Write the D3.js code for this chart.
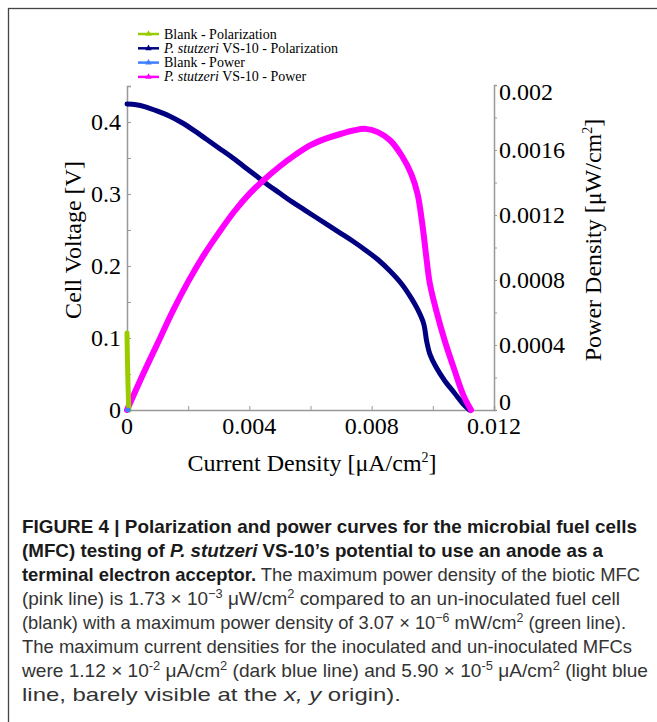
<!DOCTYPE html>
<html>
<head>
<meta charset="utf-8">
<script src="https://cdn.jsdelivr.net/npm/d3@7"></script>
<style>
  body { margin: 0; background: #fff; }
</style>
</head>
<body>
<div id="chart"></div>
<script>
// Polarization curve of P. stutzeri VS-10 (current density µA/cm², voltage V)
const polCurrent = [0, 0.0003, 0.0006, 0.001, 0.0014, 0.0018, 0.0022, 0.0026, 0.003, 0.0034, 0.0038, 0.0042,
  0.0046, 0.005, 0.0054, 0.0058, 0.0062, 0.0066, 0.007, 0.0074, 0.0078, 0.0082, 0.0086, 0.009, 0.0093,
  0.0095, 0.0097, 0.0098, 0.0099, 0.0101, 0.0104, 0.0107, 0.011, 0.0112];
const polVoltage = [0.425, 0.424, 0.421, 0.415, 0.408, 0.399, 0.388, 0.376, 0.364, 0.352, 0.339, 0.326,
  0.313, 0.301, 0.289, 0.278, 0.267, 0.256, 0.245, 0.234, 0.222, 0.209, 0.193, 0.174, 0.155,
  0.14, 0.12, 0.095, 0.078, 0.06, 0.04, 0.024, 0.008, 0];

// Power curve of P. stutzeri VS-10 (µW/cm²)
const powCurrent = [0, 0.0005, 0.001, 0.0015, 0.002, 0.0025, 0.003, 0.0035, 0.004, 0.0045, 0.005, 0.0055,
  0.006, 0.0065, 0.007, 0.0074, 0.0078, 0.0082, 0.0086, 0.009, 0.0093, 0.0095, 0.0096, 0.0097, 0.0098,
  0.0099, 0.0101, 0.0104, 0.0107, 0.011, 0.01125];
const powDensity = [0, 0.00021, 0.00041, 0.00061, 0.00079, 0.00095, 0.00109, 0.00122, 0.00133, 0.00142,
  0.0015, 0.00157, 0.00163, 0.00167, 0.0017, 0.00172, 0.00173, 0.00171, 0.00166, 0.00156, 0.00145,
  0.00133, 0.00122, 0.00108, 0.00092, 0.00078, 0.00062, 0.00042, 0.00025, 0.00009, 0];

// Blank (un-inoculated) cell
const blankPolCurrent = [0, 0.00001, 0.00003, 0.000059];
const blankPolVoltage = [0.107, 0.08, 0.04, 0];
const blankPowCurrent = [0, 0.00003, 0.000059];
const blankPowDensity = [0, 0.0000025, 0];

const xTicks = [0, 0.004, 0.008, 0.012];
const yLeftTicks = [0, 0.1, 0.2, 0.3, 0.4];
const yRightTicks = [0, 0.0004, 0.0008, 0.0012, 0.0016, 0.002];

const legendLabels = [
  { ital: "", post: "Blank - Polarization", color: "#99cc00" },
  { ital: "P. stutzeri", post: " VS-10 - Polarization", color: "#000080" },
  { ital: "", post: "Blank - Power", color: "#3f7fff" },
  { ital: "P. stutzeri", post: " VS-10 - Power", color: "#ff00ff" }
];

const width = 657, height = 722;
const serif = "'Liberation Serif', 'Times New Roman', serif";
const sans = "'Liberation Sans', Arial, sans-serif";

const svg = d3.select("#chart").append("svg")
  .attr("width", width)
  .attr("height", height);

// frame around the figure
svg.append("rect")
  .attr("x", 8.5).attr("y", 8.5)
  .attr("width", 700).attr("height", 760)
  .attr("fill", "none")
  .attr("stroke", "#444")
  .attr("stroke-width", 1.3);

const x = d3.scaleLinear().domain([0, 0.012]).range([127, 494]);
const yL = d3.scaleLinear().domain([0, 0.45]).range([410, 86]);
const yR = d3.scaleLinear().domain([0, 0.002]).range([410, 85]);

const axisColor = "#999";

// bottom axis
const xAxis = svg.append("g")
  .attr("transform", "translate(0,410)")
  .call(d3.axisBottom(x).tickValues(d3.range(0, 0.0121, 0.002)).tickSize(-4).tickFormat(""));
xAxis.select(".domain").attr("stroke", axisColor).attr("stroke-width", 1.5);
xAxis.selectAll(".tick line").attr("stroke", axisColor);

svg.append("g").selectAll("text")
  .data(xTicks)
  .join("text")
  .attr("x", d => x(d))
  .attr("y", 434)
  .attr("text-anchor", "middle")
  .style("font-family", serif)
  .style("font-size", "24px")
  .text(d => d === 0 ? "0" : d3.format(".3f")(d));

// left axis
const yAxisL = svg.append("g")
  .attr("transform", "translate(127,0)")
  .call(d3.axisLeft(yL).tickValues(d3.range(0, 0.451, 0.05)).tickSize(-4).tickFormat(""));
yAxisL.select(".domain").attr("stroke", axisColor).attr("stroke-width", 1.5);
yAxisL.selectAll(".tick line").attr("stroke", axisColor);

svg.append("g").selectAll("text")
  .data(yLeftTicks)
  .join("text")
  .attr("x", 121)
  .attr("y", d => yL(d))
  .attr("dy", "0.35em")
  .attr("text-anchor", "end")
  .style("font-family", serif)
  .style("font-size", "24px")
  .text(d => d === 0 ? "0" : d3.format(".1f")(d));

// right axis
const yAxisR = svg.append("g")
  .attr("transform", "translate(494,0)")
  .call(d3.axisRight(yR).tickValues(d3.range(0, 0.00201, 0.0002)).tickSize(3).tickFormat(""));
yAxisR.select(".domain").attr("stroke", axisColor).attr("stroke-width", 1.5);
yAxisR.selectAll(".tick line").attr("stroke", axisColor);

svg.append("g").selectAll("text")
  .data(yRightTicks)
  .join("text")
  .attr("x", 499)
  .attr("y", d => yR(d) + (d === 0.002 ? 7 : d === 0 ? -8 : 0))
  .attr("dy", "0.35em")
  .attr("text-anchor", "start")
  .style("font-family", serif)
  .style("font-size", "24px")
  .text(d => d === 0 ? "0" : String(+d.toFixed(4)));

// axis titles
const xTitle = svg.append("text")
  .attr("x", 312).attr("y", 471)
  .attr("text-anchor", "middle")
  .style("font-family", serif)
  .style("font-size", "24px");
xTitle.append("tspan").text("Current Density [μA/cm");
xTitle.append("tspan").attr("dy", -9).style("font-size", "14px").text("2");
xTitle.append("tspan").attr("dy", 9).text("]");

svg.append("text")
  .attr("transform", "translate(81,240) rotate(-90)")
  .attr("text-anchor", "middle")
  .style("font-family", serif)
  .style("font-size", "24px")
  .text("Cell Voltage [V]");

const rTitle = svg.append("text")
  .attr("transform", "translate(601,240) rotate(-90)")
  .attr("text-anchor", "middle")
  .style("font-family", serif)
  .style("font-size", "24px");
rTitle.append("tspan").text("Power Density [μW/cm");
rTitle.append("tspan").attr("dy", -9).style("font-size", "14px").text("2");
rTitle.append("tspan").attr("dy", 9).text("]");

// curves
function drawCurve(xs, ys, yScale, color, w) {
  const pts = xs.map((v, i) => [v, ys[i]]);
  svg.append("path")
    .datum(pts)
    .attr("fill", "none")
    .attr("stroke", color)
    .attr("stroke-width", w)
    .attr("stroke-linejoin", "round")
    .attr("stroke-linecap", "round")
    .attr("d", d3.line().x(d => x(d[0])).y(d => yScale(d[1])).curve(d3.curveCatmullRom.alpha(0.5)));
}

drawCurve(polCurrent, polVoltage, yL, "#000080", 5);
drawCurve(powCurrent, powDensity, yR, "#ff00ff", 6);
drawCurve(blankPolCurrent, blankPolVoltage, yL, "#99cc00", 5);
drawCurve(blankPowCurrent, blankPowDensity, yR, "#3f7fff", 4);

// legend
const legend = svg.append("g");
legendLabels.forEach((d, i) => {
  const cy = 34 + i * 14.3;
  legend.append("line")
    .attr("x1", 138).attr("x2", 159)
    .attr("y1", cy).attr("y2", cy)
    .attr("stroke", d.color).attr("stroke-width", 2.5);
  legend.append("path")
    .attr("d", d3.symbol(d3.symbolTriangle, 18)())
    .attr("transform", `translate(148.5,${cy})`)
    .attr("fill", d.color);
  const t = legend.append("text")
    .attr("x", 164).attr("y", cy + 4.5)
    .style("font-family", serif)
    .style("font-size", "14px");
  if (d.ital) t.append("tspan").style("font-style", "italic").text(d.ital);
  t.append("tspan").text(d.post);
});

// caption
const captionLines = [
  [["b", "FIGURE 4 | Polarization and power curves for the microbial fuel cells"]],
  [["b", "(MFC) testing of "], ["bi", "P. stutzeri"], ["b", " VS-10’s potential to use an anode as a"]],
  [["b", "terminal electron acceptor."], ["n", " The maximum power density of the biotic MFC"]],
  [["n", "(pink line) is 1.73 × 10"], ["s", "−3"], ["n", " μW/cm"], ["s", "2"], ["n", " compared to an un-inoculated fuel cell"]],
  [["n", "(blank) with a maximum power density of 3.07 × 10"], ["s", "−6"], ["n", " mW/cm"], ["s", "2"], ["n", " (green line)."]],
  [["n", "The maximum current densities for the inoculated and un-inoculated MFCs"]],
  [["n", "were 1.12 × 10"], ["s", "-2"], ["n", " μA/cm"], ["s", "2"], ["n", " (dark blue line) and 5.90 × 10"], ["s", "-5"], ["n", " μA/cm"], ["s", "2"], ["n", " (light blue"]],
  [["n", "line, barely visible at the "], ["i", "x, y"], ["n", " origin)."]]
];
// right end of each caption line in the reference
const captionEnds = [637, 603, 640, 620, 626, 632, 648, 401];

const caption = svg.append("g")
  .style("font-family", sans)
  .style("font-size", "18.5px");

captionLines.forEach((parts, li) => {
  const t = caption.append("text")
    .attr("x", 22)
    .attr("y", 533 + li * 24)
    .attr("fill", "#333");
  let raised = false;
  parts.forEach(([kind, str]) => {
    const s = t.append("tspan").text(str);
    if (kind === "b" || kind === "bi") s.style("font-weight", "bold").attr("fill", "#1a1a1a");
    if (kind === "bi" || kind === "i") s.style("font-style", "italic");
    if (kind === "s") {
      s.style("font-size", "12.5px").attr("dy", raised ? 0 : -7);
      raised = true;
    } else if (raised) {
      s.attr("dy", 7);
      raised = false;
    }
  });
  t.attr("textLength", captionEnds[li] - 22).attr("lengthAdjust", "spacingAndGlyphs");
});
</script>
</body>
</html>
